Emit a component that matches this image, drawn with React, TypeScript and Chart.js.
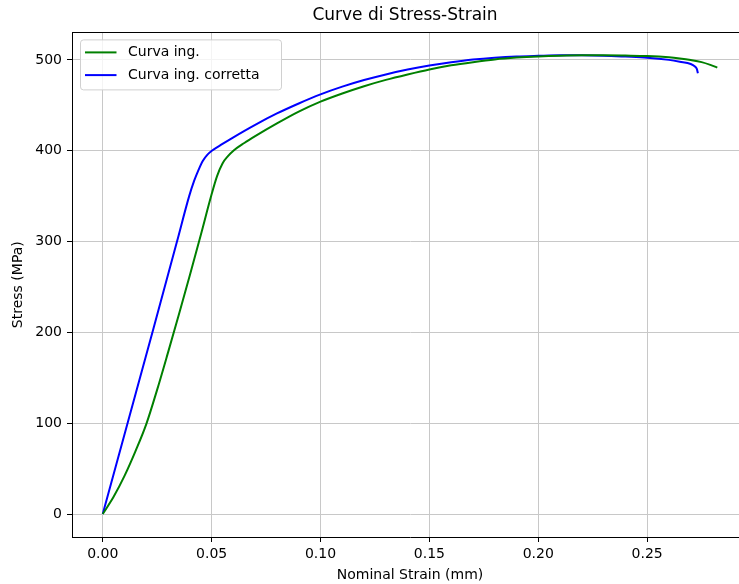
import React, { useEffect, useRef } from "react";
import { Chart, registerables } from "chart.js";

Chart.register(...registerables);

const TITLE = "Curve di Stress-Strain";
const X_LABEL = "Nominal Strain (mm)";
const Y_LABEL = "Stress (MPa)";

const xTicks = [0, 0.05, 0.1, 0.15, 0.2, 0.25];
const yTicks = [0, 100, 200, 300, 400, 500];

const greenLabel = "Curva ing.";
const greenStrain = [0, 0.005, 0.01, 0.015, 0.02, 0.025, 0.03, 0.035, 0.04, 0.045, 0.05, 0.0525, 0.055, 0.0575, 0.06, 0.065, 0.07, 0.08, 0.09, 0.1, 0.11, 0.12, 0.13, 0.14, 0.15, 0.16, 0.17, 0.18, 0.19, 0.2, 0.21, 0.22, 0.23, 0.24, 0.25, 0.26, 0.265, 0.27, 0.275, 0.279, 0.2822];
const greenStress = [0, 19, 42, 69, 99, 137, 178, 220, 263, 307, 352, 372, 386, 394, 400, 408.5, 416, 430, 443, 454, 463, 471, 478, 484, 489.5, 494, 497.5, 500.5, 502.5, 503.8, 504.6, 505, 505, 504.7, 504.2, 502.8, 501.5, 499.8, 497.5, 494.5, 491.5];

const blueLabel = "Curva ing. corretta";
const blueStrain = [0, 0.0114, 0.0228, 0.0341, 0.0397, 0.042, 0.044, 0.046, 0.048, 0.0501, 0.055, 0.06, 0.07, 0.08, 0.09, 0.1, 0.11, 0.12, 0.13, 0.14, 0.15, 0.16, 0.17, 0.18, 0.19, 0.2, 0.21, 0.22, 0.23, 0.24, 0.25, 0.26, 0.265, 0.27, 0.2718, 0.2728, 0.2733];
const blueStress = [0, 100, 200, 300, 350, 367, 379, 389, 395.5, 400, 407.5, 414.8, 428.5, 441, 452, 462, 470.5, 477.8, 484, 489.3, 493.7, 497.3, 500.3, 502.4, 503.8, 504.5, 505, 505, 504.6, 503.6, 502.4, 500, 498, 495.5, 493, 490, 485.3];

const X_MIN = -0.01411;
const X_MAX = 0.2963;
const Y_MIN = -25.25;
const Y_MAX = 530.25;

const FONT = "'DejaVu Sans', sans-serif";

const toPts = (xs: number[], ys: number[]) => xs.map((x, i) => ({ x, y: ys[i] }));

const framePlugin = {
  id: "frameAndLegend",
  afterDatasetsDraw(chart: any) {
    const { ctx, chartArea } = chart;
    ctx.save();
    // top & right spines
    ctx.strokeStyle = "#000";
    ctx.lineWidth = 1;
    ctx.beginPath();
    ctx.moveTo(chartArea.left, Math.round(chartArea.top) + 0.5);
    ctx.lineTo(chartArea.right, Math.round(chartArea.top) + 0.5);
    ctx.moveTo(Math.round(chartArea.right) - 0.5, chartArea.top);
    ctx.lineTo(Math.round(chartArea.right) - 0.5, chartArea.bottom);
    ctx.stroke();

    // title
    ctx.fillStyle = "#000";
    ctx.font = `17px ${FONT}`;
    ctx.textAlign = "center";
    ctx.textBaseline = "middle";
    ctx.fillText(TITLE, 405, 16);

    // legend
    const lx = chartArea.left + 8.5;
    const ly = chartArea.top + 7.5;
    const lw = 201;
    const lh = 50;
    ctx.beginPath();
    ctx.roundRect(lx, ly, lw, lh, 3);
    ctx.fillStyle = "rgba(255,255,255,0.8)";
    ctx.fill();
    ctx.strokeStyle = "#d0d0d0";
    ctx.lineWidth = 1;
    ctx.stroke();

    const ds = chart.data.datasets;
    ds.forEach((d: any, i: number) => {
      const y = ly + 12.5 + i * 22.7;
      ctx.strokeStyle = d.borderColor;
      ctx.lineWidth = 2;
      ctx.beginPath();
      ctx.moveTo(lx + 4.5, y);
      ctx.lineTo(lx + 36, y);
      ctx.stroke();
      ctx.fillStyle = "#000";
      ctx.font = `14px ${FONT}`;
      ctx.textBaseline = "middle";
      ctx.textAlign = "left";
      ctx.fillText(d.label, lx + 47.5, y);
    });
    ctx.restore();
  },
};

export default function App() {
  const ref = useRef<HTMLCanvasElement>(null);

  useEffect(() => {
    if (!ref.current) return;
    const tickFont = { family: FONT, size: 14 };
    const chart = new Chart(ref.current, {
      type: "scatter",
      data: {
        datasets: [
          {
            label: greenLabel,
            data: toPts(greenStrain, greenStress),
            showLine: true,
            borderColor: "#008000",
            backgroundColor: "#008000",
            borderWidth: 2,
            pointRadius: 0,
            fill: false,
            cubicInterpolationMode: "monotone",
          },
          {
            label: blueLabel,
            data: toPts(blueStrain, blueStress),
            showLine: true,
            borderColor: "#0000ff",
            backgroundColor: "#0000ff",
            borderWidth: 2,
            pointRadius: 0,
            fill: false,
            cubicInterpolationMode: "monotone",
          },
        ],
      },
      options: {
        responsive: false,
        animation: false,
        devicePixelRatio: 1,
        layout: { padding: { top: 32.4, left: 0, right: 0, bottom: 0 } },
        plugins: {
          legend: { display: false },
          tooltip: { enabled: false },
          title: { display: false },
        },
        scales: {
          x: {
            type: "linear",
            min: X_MIN,
            max: X_MAX,
            afterBuildTicks: (s: any) => {
              s.ticks = xTicks.map((v) => ({ value: v }));
            },
            afterFit: (s: any) => {
              s.height = 47;
            },
            grid: { color: "#c8c8c8", lineWidth: 1, tickColor: "#000", tickLength: 5, tickWidth: 1 },
            border: { color: "#000", width: 1 },
            ticks: {
              color: "#000",
              font: tickFont,
              padding: 4,
              maxRotation: 0,
              autoSkip: false,
              callback: (v: any) => Number(v).toFixed(2),
            },
            title: { display: true, text: X_LABEL, color: "#000", font: tickFont, padding: { top: 2, bottom: 0 } },
          },
          y: {
            type: "linear",
            min: Y_MIN,
            max: Y_MAX,
            afterBuildTicks: (s: any) => {
              s.ticks = yTicks.map((v) => ({ value: v }));
            },
            afterFit: (s: any) => {
              s.width = 72;
            },
            grid: { color: "#c8c8c8", lineWidth: 1, tickColor: "#000", tickLength: 5, tickWidth: 1 },
            border: { color: "#000", width: 1 },
            ticks: {
              color: "#000",
              font: tickFont,
              padding: 5,
              autoSkip: false,
              callback: (v: any) => String(v),
            },
            title: { display: true, text: Y_LABEL, color: "#000", font: tickFont, padding: { top: 10, bottom: 0 } },
          },
        },
      },
      plugins: [framePlugin],
    } as any);
    return () => chart.destroy();
  }, []);

  return (
    <div style={{ position: "fixed", left: 0, top: 0, width: 739, height: 584, overflow: "hidden", background: "#fff" }}>
      <canvas ref={ref} width={748} height={584} style={{ display: "block", width: 748, height: 584 }} />
    </div>
  );
}
